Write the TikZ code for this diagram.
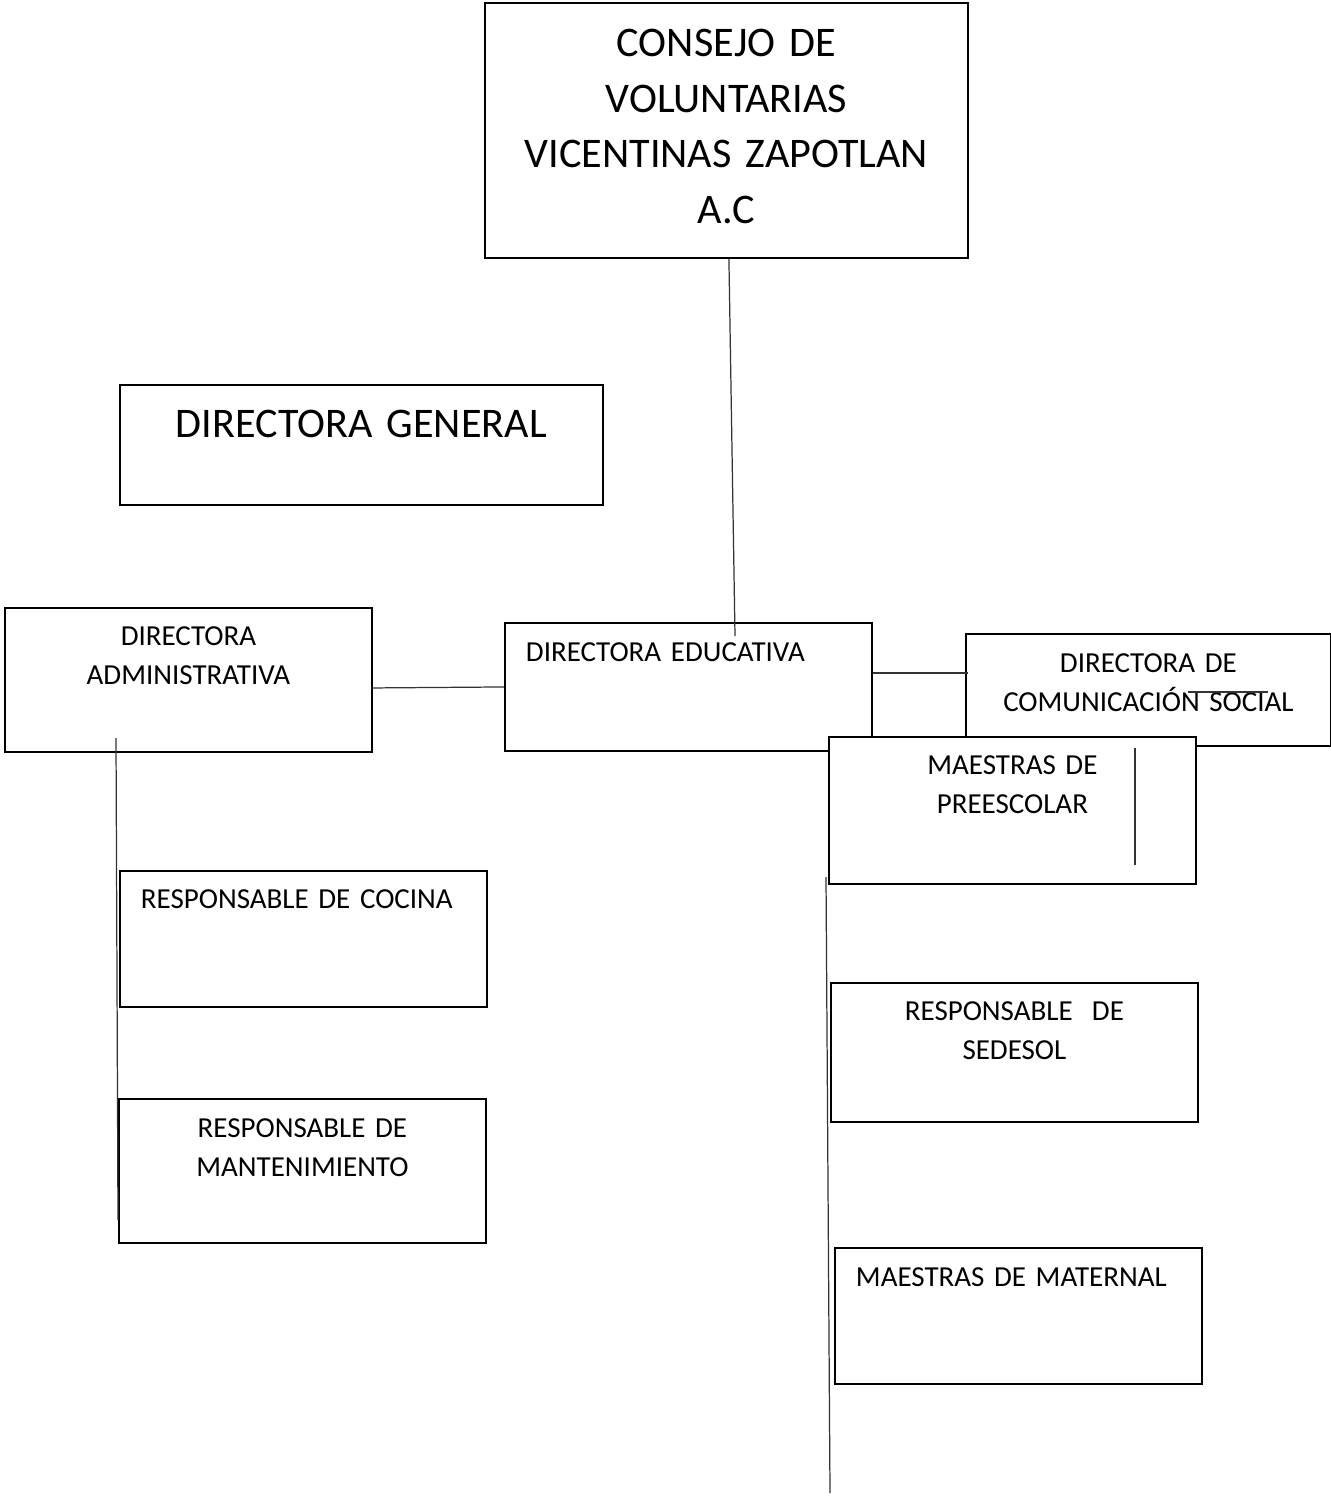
\documentclass[tikz,border=0pt]{standalone}
\usepackage{fontspec}
\setmainfont{Carlito}
\tikzset{%
    puesto/.style={%
        draw,
        line width=1.1pt,
        fill=white,
        anchor=north west,
        inner sep=0pt,
        align=center,
        font=\fontsize{16.5}{22.2}\selectfont
    },
    puestogrande/.style={%
        puesto,
        font=\fontsize{24}{31.6}\selectfont
    },
    puestoizq/.style={%
        puesto,
        align=left,
        inner xsep=0.42cm
    },
    linea/.style={line width=0.7pt, black!80}
}

\begin{document}
\begin{tikzpicture}[x=0.02cm, y=-0.02cm]

    \useasboundingbox (0, 0) rectangle (1331, 1497);

    % Consejo y direccion general
    \node[puestogrande, text width=9.66cm, text height=1.08cm, text depth=4.02cm]
        (consejo) at (484, 2)
        {CONSEJO DE\\VOLUNTARIAS\\VICENTINAS ZAPOTLAN\\A.C};
    \node[puestogrande, text width=9.66cm, text height=1.06cm, text depth=1.34cm]
        (general) at (119, 384) {DIRECTORA GENERAL};

    % Directoras
    \node[puesto, text width=7.34cm, text height=0.76cm, text depth=2.12cm]
        (admin) at (4, 607) {DIRECTORA\\ADMINISTRATIVA};
    \node[puestoizq, text width=6.50cm, text height=0.78cm, text depth=1.78cm]
        (educ) at (504, 622) {DIRECTORA EDUCATIVA};
    \node[puesto, text width=7.30cm, text height=0.78cm, text depth=1.46cm]
        (comun) at (965, 633) {DIRECTORA DE\\COMUNICACI\'ON SOCIAL};

    % Maestras y responsables
    \node[puesto, text width=7.34cm, text height=0.76cm, text depth=2.18cm]
        (preesc) at (828, 736) {MAESTRAS DE\\PREESCOLAR};
    \node[puestoizq, text width=6.50cm, text height=0.76cm, text depth=1.96cm]
        (cocina) at (119, 870) {RESPONSABLE DE COCINA};
    \node[puesto, text width=7.34cm, text height=0.78cm, text depth=2.10cm]
        (mant) at (118, 1098) {RESPONSABLE DE\\MANTENIMIENTO};
    \node[puesto, text width=7.34cm, text height=0.76cm, text depth=2.02cm]
        (sedesol) at (830, 982) {RESPONSABLE\ \ DE\\SEDESOL};
    \node[puestoizq, text width=6.50cm, text height=0.78cm, text depth=1.94cm]
        (maternal) at (834, 1247) {MAESTRAS DE MATERNAL};

    % Puntos sueltos de las lineas
    \coordinate (educ-in) at (735, 636);
    \coordinate (comun-in) at (968, 673);
    \coordinate (admin-in) at (116, 738);
    \coordinate (mant-in) at (118, 1220);
    \coordinate (preesc-in) at (826, 877);
    \coordinate (fin) at (830, 1493);
    \coordinate (marca-a) at (1135, 748);
    \coordinate (marca-b) at (1135, 865);
    \coordinate (tacha-a) at (1188, 692);
    \coordinate (tacha-b) at (1268, 692);

    % Lineas
    \draw[linea] ([xshift=0.05cm] consejo.south) -- (educ-in);
    \draw[linea] ([yshift=-0.16cm] admin.east) -- (educ.west);
    \draw[linea] (educ.east |- comun-in) -- (comun-in);
    \draw[linea] (admin-in) -- (mant-in);
    \draw[linea] (preesc-in) -- (fin);
    \draw[linea] (marca-a) -- (marca-b);
    \draw[linea] (tacha-a) -- (tacha-b);

\end{tikzpicture}
\end{document}
